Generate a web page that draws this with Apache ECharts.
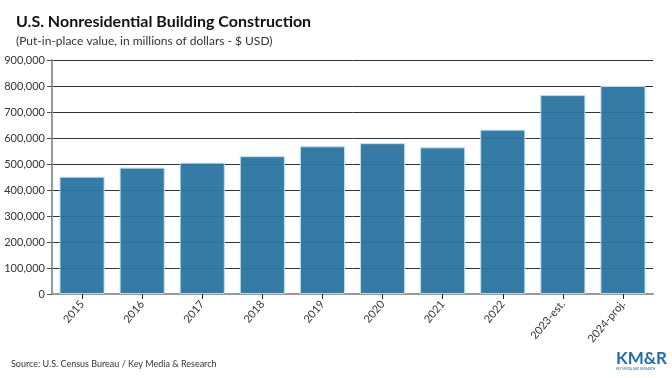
<!DOCTYPE html>
<html><head><meta charset="utf-8">
<script src="https://cdn.jsdelivr.net/npm/echarts@6/dist/echarts.min.js"></script>
<style>html,body{margin:0;padding:0;background:#fff}#c{width:672px;height:378px}</style>
</head><body><div id="c"></div>
<script>
const categories = ['2015','2016','2017','2018','2019','2020','2021','2022','2023-est.','2024-proj.'];
const values = [451000, 486000, 505000, 530000, 568000, 580000, 564000, 632000, 765000, 800000];
const yTicks = [0, 100000, 200000, 300000, 400000, 500000, 600000, 700000, 800000, 900000];

const chart = echarts.init(document.getElementById('c'), null, {renderer:'canvas'});
const FONT = 'Lato';
chart.setOption({
  animation:false,
  title:[
    {text:'U.S. Nonresidential Building Construction', left:11, top:9,
     textStyle:{fontFamily:FONT, fontWeight:'bold', fontSize:16, color:'#111'}},
    {text:'(Put-in-place value, in millions of dollars - $ USD)', left:11, top:30,
     textStyle:{fontFamily:FONT, fontWeight:'normal', fontSize:12, color:'#333'}}
  ],
  grid:{left:52, right:19, top:60, bottom:84, containLabel:false},
  xAxis:{type:'category', data:categories,
    axisLine:{lineStyle:{color:'#999', width:2}},
    axisTick:{show:true, alignWithLabel:true, length:5, lineStyle:{color:'#222'}},
    axisLabel:{rotate:50, fontFamily:FONT, fontSize:11, color:'#333', margin:8, interval:0}
  },
  yAxis:{type:'value', min:yTicks[0], max:yTicks[yTicks.length-1], interval:100000,
    axisLine:{show:true, lineStyle:{color:'#999', width:2}},
    axisTick:{show:true, length:5, lineStyle:{color:'#555'}},
    splitLine:{lineStyle:{color:'#333', width:1}},
    axisLabel:{fontFamily:FONT, fontSize:11, color:'#333', margin:7,
      formatter:v=>v.toLocaleString('en-US')}
  },
  series:[{type:'bar', data:values, barWidth:'75%',
    itemStyle:{color:'#2b74a0', opacity:0.95, borderColor:'#b8e0f0', borderWidth:1}
  }],
  graphic:[
    {type:'text', left:11, top:360, style:{text:'Source: U.S. Census Bureau / Key Media & Research', font:'9px '+FONT, fill:'#333'}},
    {type:'text', left:616, top:350, style:{text:'KM&R', font:'bold 17px "Liberation Sans Narrow", Lato', fill:'#1e6fae'}},
    {type:'text', left:616, top:368, style:{text:'KEY MEDIA AND RESEARCH', font:'3px '+FONT, fill:'#1e6fae'}}
  ]
});
</script></body></html>
